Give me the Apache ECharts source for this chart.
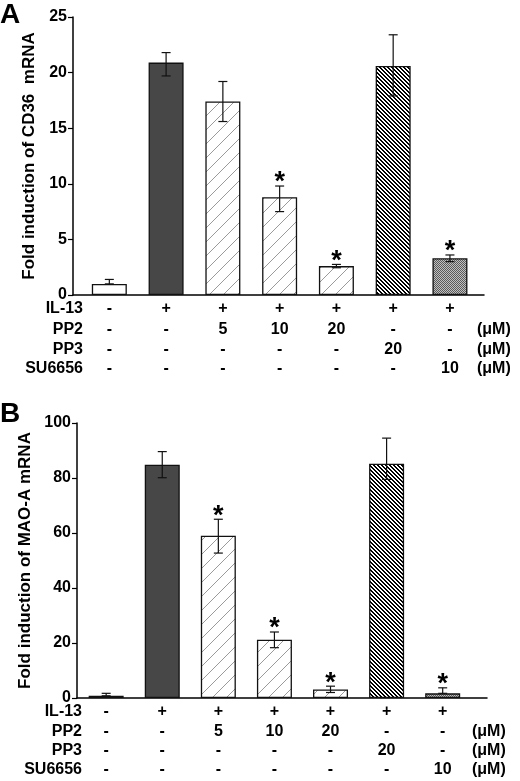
<!DOCTYPE html>
<html><head><meta charset="utf-8">
<script src="https://cdn.jsdelivr.net/npm/echarts@6/dist/echarts.min.js"></script>
<style>html,body{margin:0;padding:0;background:#fff}#c{width:520px;height:781px}</style>
</head><body><div id="c"></div><script>
// ---- data ----
const categories = ['Control', 'IL-13', 'IL-13+PP2 5', 'IL-13+PP2 10', 'IL-13+PP2 20', 'IL-13+PP3 20', 'IL-13+SU6656 10'];
const valuesA = [1.0, 20.9, 17.4, 8.8, 2.6, 20.6, 3.3];
const errHiA = [1.4, 21.8, 19.2, 9.8, 2.75, 23.4, 3.6];
const errLoA = [1.0, 19.7, 15.6, 7.5, 2.45, 17.9, 3.0];
const starsA = [false, false, false, true, true, false, true];
const valuesB = [0.8, 84.8, 59.0, 21.2, 3.1, 85.2, 1.7];
const errHiB = [1.7, 89.6, 65.0, 24.0, 4.3, 94.5, 3.7];
const errLoB = [0.8, 80.1, 52.7, 18.3, 2.0, 79.5, 1.7];
const starsB = [false, false, true, true, true, false, true];
const yMaxA = 25, yStepA = 5;
const yMaxB = 100, yStepB = 20;
const yNameA = 'Fold induction of CD36  mRNA';
const yNameB = 'Fold induction of MAO-A mRNA';
const panelLabels = ['A', 'B'];
const rowLabels = ['IL-13', 'PP2', 'PP3', 'SU6656'];
const rowUnits = ['', '(\u03bcM)', '(\u03bcM)', '(\u03bcM)'];
const tableRows = [
  ['-', '+', '+', '+', '+', '+', '+'],
  ['-', '-', '5', '10', '20', '-', '-'],
  ['-', '-', '-', '-', '-', '20', '-'],
  ['-', '-', '-', '-', '-', '-', '10']
];
const fillKinds = ['white', 'dark', 'light', 'light', 'light', 'dense', 'dots'];

// ---- patterns ----
function tile(w, h, draw) {
  const c = document.createElement('canvas'); c.width = w; c.height = h;
  const g = c.getContext('2d'); g.fillStyle = '#fff'; g.fillRect(0, 0, w, h); draw(g, w, h); return c;
}
const patLight = tile(14, 14, (g, w) => {
  g.strokeStyle = '#808080'; g.lineWidth = 0.8;
  [[0, w, w, 0], [-3, 3, 3, -3], [w - 3, w + 3, w + 3, w - 3]].forEach(s => { g.beginPath(); g.moveTo(s[0], s[1]); g.lineTo(s[2], s[3]); g.stroke(); });
});
const patDense = tile(4, 4, (g, w) => {
  g.fillStyle = '#000';
  for (let y = 0; y < w; y++) for (let x = 0; x < w; x++) {
    const d = ((x - y) % w + w) % w;
    if (d === 0 || d === 1) g.fillRect(x, y, 1, 1);
  }
});
const patDots = tile(2, 2, (g) => {
  g.fillStyle = '#5a5a5a'; g.fillRect(0, 0, 1, 1); g.fillRect(1, 1, 1, 1);
  g.fillStyle = '#c0c0c0'; g.fillRect(1, 0, 1, 1); g.fillRect(0, 1, 1, 1);
});
function fillFor(kind) {
  if (kind === 'white') return '#fff';
  if (kind === 'dark') return '#474747';
  if (kind === 'light') return { image: patLight, repeat: 'repeat' };
  if (kind === 'dense') return { image: patDense, repeat: 'repeat' };
  return { image: patDots, repeat: 'repeat' };
}

const FONT = "'Liberation Sans', Arial, sans-serif";
const chart = echarts.init(document.getElementById('c'), null, { renderer: 'canvas' });

function yAxis(gi, max, step, name, gap) {
  return {
    type: 'value', gridIndex: gi, min: 0, max: max, interval: step,
    name: name, nameLocation: 'middle', nameGap: gap, nameRotate: 90,
    nameTextStyle: { color: '#000', fontFamily: FONT, fontWeight: 'bold', fontSize: 17 },
    axisLine: { show: true, onZero: false, lineStyle: { color: '#000', width: 1.5 } },
    axisTick: { show: true, length: 5, lineStyle: { color: '#000', width: 1.2 } },
    axisLabel: { color: '#000', fontFamily: FONT, fontWeight: 'bold', fontSize: 16, margin: 6 },
    splitLine: { show: false }
  };
}
function xAxis(gi, min, max) {
  return {
    type: 'value', gridIndex: gi, min: min, max: max,
    axisLine: { show: true, onZero: false, lineStyle: { color: '#000', width: 1.5 } },
    axisTick: { show: false }, axisLabel: { show: false }, splitLine: { show: false }
  };
}
function barSeries(gi, vals) {
  return {
    type: 'bar', xAxisIndex: gi, yAxisIndex: gi, barWidth: 35, z: 2,
    data: vals.map((v, i) => ({
      value: [i, v],
      itemStyle: { color: fillFor(fillKinds[i]), borderColor: '#111', borderWidth: 1.3 }
    }))
  };
}
function errSeries(gi, lo, hi) {
  return {
    type: 'custom', xAxisIndex: gi, yAxisIndex: gi, z: 5,
    data: lo.map((l, i) => [i, l, hi[i]]),
    encode: { x: 0, y: [1, 2] },
    renderItem: function (params, api) {
      const a = api.coord([api.value(0), api.value(1)]);
      const b = api.coord([api.value(0), api.value(2)]);
      const hw = 4.5, st = { stroke: '#111', lineWidth: 1.2 };
      return { type: 'group', children: [
        { type: 'line', shape: { x1: a[0], y1: a[1], x2: b[0], y2: b[1] }, style: st },
        { type: 'line', shape: { x1: b[0] - hw, y1: b[1], x2: b[0] + hw, y2: b[1] }, style: st },
        { type: 'line', shape: { x1: a[0] - hw, y1: a[1], x2: a[0] + hw, y2: a[1] }, style: st }
      ] };
    }
  };
}
function starSeries(gi, hi, stars) {
  return {
    type: 'custom', xAxisIndex: gi, yAxisIndex: gi, z: 6,
    data: hi.map((h, i) => [i, h]).filter((d, i) => stars[i]),
    encode: { x: 0, y: 1 },
    renderItem: function (params, api) {
      const p = api.coord([api.value(0), api.value(1)]);
      return { type: 'text', x: p[0], y: p[1] - 3,
        style: { text: '*', fill: '#000', font: 'bold 27px ' + FONT, align: 'center', verticalAlign: 'middle' } };
    }
  };
}

const option = {
  animation: false,
  backgroundColor: '#fff',
  grid: [
    { left: 73, top: 17, width: 411, height: 278 },
    { left: 77, top: 423, width: 410, height: 275 }
  ],
  xAxis: [xAxis(0, -0.64, 6.60), xAxis(1, -0.52, 6.79)],
  yAxis: [yAxis(0, yMaxA, yStepA, yNameA, 33), yAxis(1, yMaxB, yStepB, yNameB, 37)],
  series: [
    barSeries(0, valuesA), errSeries(0, errLoA, errHiA), starSeries(0, errHiA, starsA),
    barSeries(1, valuesB), errSeries(1, errLoB, errHiB), starSeries(1, errHiB, starsB)
  ]
};
chart.setOption(option);

// ---- tables under each panel ----
const g = [];
const TF = 'bold 16px ' + FONT;
const panels = [
  { gi: 0, rowsY: [309, 330, 350, 369], labelX: 83, unitX: 477, letterY: 1 },
  { gi: 1, rowsY: [712, 732, 751, 770], labelX: 82, unitX: 472, letterY: 400 }
];
panels.forEach((pn, k) => {
  g.push({ type: 'text', left: 0, top: pn.letterY, style: { text: panelLabels[k], fill: '#000', font: 'bold 28px ' + FONT } });
  rowLabels.forEach((lab, r) => {
    const y = pn.rowsY[r];
    g.push({ type: 'text', x: pn.labelX, y: y, style: { text: lab, fill: '#000', font: TF, align: 'right', verticalAlign: 'middle' } });
    tableRows[r].forEach((t, i) => {
      const px = chart.convertToPixel({ xAxisIndex: pn.gi }, i);
      g.push({ type: 'text', x: px, y: y, style: { text: t, fill: '#000', font: TF, align: 'center', verticalAlign: 'middle' } });
    });
    if (rowUnits[r]) g.push({ type: 'text', x: pn.unitX, y: y, style: { text: rowUnits[r], fill: '#000', font: TF, align: 'left', verticalAlign: 'middle' } });
  });
});
chart.setOption({ graphic: g });
</script></body></html>
